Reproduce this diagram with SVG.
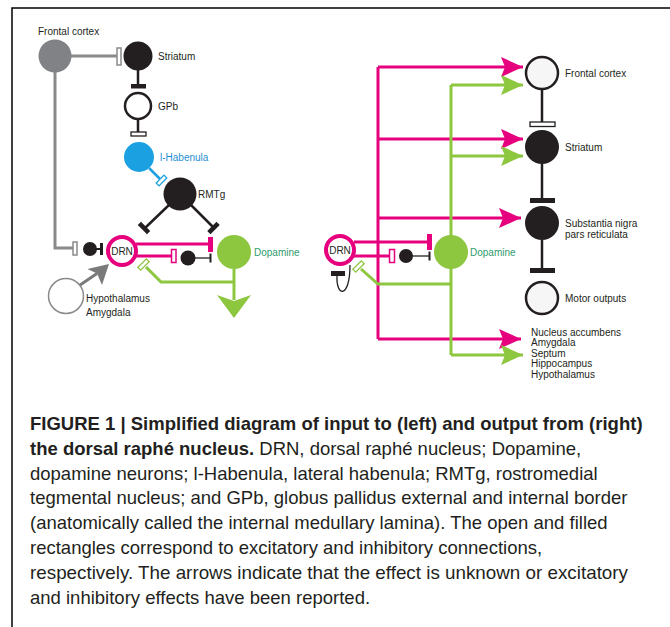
<svg xmlns="http://www.w3.org/2000/svg" width="670" height="627" viewBox="0 0 670 627">
<style>
.lbl{font-family:"Liberation Sans",Arial,sans-serif;font-size:10px;fill:#231f20}
.cap{font-family:"Liberation Sans",Arial,sans-serif;font-size:18.5px;fill:#231f20}
.b{font-weight:bold}
.blk{fill:#231f20}
.open{fill:#f6f6f6;stroke:#231f20;stroke-width:2.5}
.drn{fill:#fff;stroke:#e6007e;stroke-width:4}
.ln{fill:none;stroke:#231f20;stroke-width:2.5}
.thin{fill:none;stroke:#231f20;stroke-width:1.3}
.mag{fill:none;stroke:#e6007e;stroke-width:3}
.grn{fill:none;stroke:#8dc63f;stroke-width:3}
.gry{fill:none;stroke:#8a8a8a;stroke-width:3}
.blu{fill:none;stroke:#1ba1e2;stroke-width:2.5}
</style>
<defs>
<marker id="aM" viewBox="-23 -11 24 22" refX="0" refY="0" markerWidth="24" markerHeight="22" markerUnits="userSpaceOnUse" orient="auto"><path d="M0,0 L-22,-10 L-18,0 L-22,10 Z" fill="#e6007e"/></marker>
<marker id="aG" viewBox="-23 -11 24 22" refX="0" refY="0" markerWidth="24" markerHeight="22" markerUnits="userSpaceOnUse" orient="auto"><path d="M0,0 L-22,-10 L-18,0 L-22,10 Z" fill="#8dc63f"/></marker>
</defs>
<rect width="670" height="627" fill="#fff"/>
<path d="M12,627 V8 H670" fill="none" stroke="#000" stroke-width="1.5"/>

<g id="connectors">
  <!-- left -->
  <line class="gry" x1="71" y1="56" x2="117" y2="56"/>
  <rect x="117" y="48" width="4" height="17" fill="#fff" stroke="#8a8a8a" stroke-width="1.5"/>
  <path class="gry" d="M55,72 V248 H73"/>
  <rect x="73" y="242" width="4" height="13" fill="#fff" stroke="#8a8a8a" stroke-width="1.5"/>
  <line class="ln" x1="138" y1="70" x2="138" y2="85"/>
  <rect class="blk" x="131" y="84" width="15" height="4.5"/>
  <line class="ln" x1="138" y1="119" x2="138" y2="132"/>
  <rect x="131" y="132" width="15" height="4" fill="#fff" stroke="#231f20" stroke-width="1.3"/>
  <line class="blu" x1="149" y1="168" x2="160" y2="179"/>
  <rect x="-5.5" y="-2" width="11" height="4" fill="#fff" stroke="#1ba1e2" stroke-width="1.3" transform="translate(161.5,180.5) rotate(-45)"/>
  <line class="ln" x1="169" y1="205" x2="145" y2="228"/>
  <rect class="blk" x="-6.5" y="-2.3" width="13" height="4.6" transform="translate(144,228) rotate(45)"/>
  <line class="ln" x1="191" y1="205" x2="213" y2="227"/>
  <rect class="blk" x="-6.5" y="-2.3" width="13" height="4.6" transform="translate(213.5,228) rotate(-45)"/>
  <line x1="96" y1="249" x2="101" y2="249" stroke="#231f20" stroke-width="2"/>
  <rect class="blk" x="100" y="243" width="3" height="12"/>
  <line class="mag" x1="136" y1="244" x2="209" y2="244"/>
  <rect x="208" y="237" width="5" height="15" fill="#e6007e"/>
  <line class="mag" x1="136" y1="256" x2="172" y2="256"/>
  <rect x="171.5" y="249.5" width="4.5" height="13" fill="#fff" stroke="#e6007e" stroke-width="1.5"/>
  <line class="thin" x1="195" y1="258" x2="210" y2="258"/>
  <rect class="blk" x="209.5" y="253.5" width="2" height="9"/>
  <line class="grn" x1="234" y1="269" x2="234" y2="300"/>
  <polygon points="234,318 217,295 234,301 251,295" fill="#8dc63f"/>
  <path class="grn" d="M234,282 H161 L146,267"/>
  <rect x="-6" y="-2" width="12" height="4" fill="#fff" stroke="#8dc63f" stroke-width="1.3" transform="translate(143.5,264.5) rotate(-45)"/>
  <line x1="79.7" y1="285.2" x2="97" y2="273.5" stroke="#7a7a7a" stroke-width="3"/>
  <polygon points="109,264 102,285 97,273.5 87.5,269" fill="#7a7a7a"/>
  <!-- right -->
  <path class="mag" d="M378,67 V339"/>
  <line class="mag" x1="378" y1="67" x2="523" y2="67" marker-end="url(#aM)"/>
  <line class="mag" x1="378" y1="139" x2="523" y2="139" marker-end="url(#aM)"/>
  <line class="mag" x1="378" y1="218" x2="521" y2="218" marker-end="url(#aM)"/>
  <line class="mag" x1="378" y1="339" x2="521" y2="339" marker-end="url(#aM)"/>
  <path class="grn" d="M451,85 V355"/>
  <line class="grn" x1="451" y1="85" x2="523" y2="85" marker-end="url(#aG)"/>
  <line class="grn" x1="451" y1="156" x2="523" y2="156" marker-end="url(#aG)"/>
  <line class="grn" x1="451" y1="355" x2="523" y2="355" marker-end="url(#aG)"/>
  <path class="grn" d="M451,284 H378 L361,269"/>
  <rect x="-6" y="-2" width="12" height="4" fill="#fff" stroke="#8dc63f" stroke-width="1.3" transform="translate(358.5,266.5) rotate(-45)"/>
  <line class="mag" x1="354" y1="242" x2="428" y2="242"/>
  <rect x="427" y="234" width="5" height="16" fill="#e6007e"/>
  <line class="mag" x1="354" y1="256" x2="390" y2="256"/>
  <rect x="389.5" y="249.5" width="5" height="13" fill="#fff" stroke="#e6007e" stroke-width="1.5"/>
  <line class="thin" x1="413" y1="256" x2="429" y2="256"/>
  <rect class="blk" x="428.5" y="251.5" width="2" height="9"/>
  <rect class="blk" x="331" y="271" width="14" height="5"/>
  <path class="thin" d="M337,276 C336,297 350,299 350,265"/>
  <line class="ln" x1="542" y1="89" x2="542" y2="122"/>
  <rect x="530" y="122" width="25" height="4.5" fill="#fff" stroke="#231f20" stroke-width="1.3"/>
  <line class="ln" x1="542" y1="164" x2="542" y2="198"/>
  <rect class="blk" x="530" y="198" width="25" height="5"/>
  <line class="ln" x1="542" y1="240" x2="542" y2="268"/>
  <rect class="blk" x="530" y="268" width="25" height="5"/>
</g>

<g id="frontal-cortex-left"><circle cx="55" cy="56" r="16.5" fill="#808285"/><text class="lbl" x="38" y="35">Frontal cortex</text></g>
<g id="striatum-left"><circle class="blk" cx="138" cy="56" r="14.5"/><text class="lbl" x="158" y="60">Striatum</text></g>
<g id="gpb"><circle cx="138" cy="106" r="13" fill="#fff" stroke="#231f20" stroke-width="2.5"/><text class="lbl" x="158" y="110">GPb</text></g>
<g id="l-habenula"><circle cx="139" cy="157" r="15" fill="#1ba1e2"/><text class="lbl" x="160" y="161" style="fill:#1e8fd2">l-Habenula</text></g>
<g id="rmtg"><circle class="blk" cx="180" cy="194" r="16.5"/><text class="lbl" x="198" y="198">RMTg</text></g>
<g id="interneuron-left-1"><circle class="blk" cx="90" cy="249" r="7"/></g>
<g id="drn-left"><circle class="drn" cx="122" cy="251" r="14"/><text class="lbl" x="122" y="254.5" text-anchor="middle">DRN</text></g>
<g id="interneuron-left-2"><circle class="blk" cx="188" cy="258" r="7.5"/></g>
<g id="dopamine-left"><circle cx="234" cy="252" r="17" fill="#8dc63f"/><text class="lbl" x="254" y="256" style="fill:#2e9b6e">Dopamine</text></g>
<g id="hypothalamus-amygdala"><circle cx="66" cy="296" r="17.5" fill="#fff" stroke="#8a8a8a" stroke-width="1.5"/><text class="lbl" x="86" y="302">Hypothalamus</text><text class="lbl" x="86" y="316">Amygdala</text></g>

<g id="frontal-cortex-right"><circle class="open" cx="542" cy="73" r="16"/><text class="lbl" x="565" y="77">Frontal cortex</text></g>
<g id="striatum-right"><circle class="blk" cx="542" cy="147" r="17"/><text class="lbl" x="565" y="151">Striatum</text></g>
<g id="substantia-nigra"><circle class="blk" cx="542" cy="223" r="17"/><text class="lbl" x="565" y="227">Substantia nigra</text><text class="lbl" x="565" y="238">pars reticulata</text></g>
<g id="motor-outputs"><circle class="open" cx="542" cy="298" r="16"/><text class="lbl" x="565" y="302">Motor outputs</text></g>
<g id="targets"><text class="lbl" x="531" y="335.5">Nucleus accumbens</text><text class="lbl" x="531" y="346">Amygdala</text><text class="lbl" x="531" y="356.5">Septum</text><text class="lbl" x="531" y="367">Hippocampus</text><text class="lbl" x="531" y="377.5">Hypothalamus</text></g>
<g id="drn-right"><circle class="drn" cx="340" cy="250" r="14"/><text class="lbl" x="340" y="253.5" text-anchor="middle">DRN</text></g>
<g id="interneuron-right"><circle class="blk" cx="406" cy="256" r="7"/></g>
<g id="dopamine-right"><circle cx="451" cy="252" r="17" fill="#8dc63f"/><text class="lbl" x="470" y="256" style="fill:#2e9b6e">Dopamine</text></g>

<g id="caption">
<text class="cap b" x="30" y="430">FIGURE 1 | Simplified diagram of input to (left) and output from (right)</text>
<text class="cap" x="30" y="454.8"><tspan class="b">the dorsal raphé nucleus.</tspan> DRN, dorsal raphé nucleus; Dopamine,</text>
<text class="cap" x="30" y="479.6">dopamine neurons; l-Habenula, lateral habenula; RMTg, rostromedial</text>
<text class="cap" x="30" y="504.4">tegmental nucleus; and GPb, globus pallidus external and internal border</text>
<text class="cap" x="30" y="529.2">(anatomically called the internal medullary lamina). The open and filled</text>
<text class="cap" x="30" y="554">rectangles correspond to excitatory and inhibitory connections,</text>
<text class="cap" x="30" y="578.8" textLength="598" lengthAdjust="spacingAndGlyphs">respectively. The arrows indicate that the effect is unknown or excitatory</text>
<text class="cap" x="30" y="603.6">and inhibitory effects have been reported.</text>
</g>
</svg>
